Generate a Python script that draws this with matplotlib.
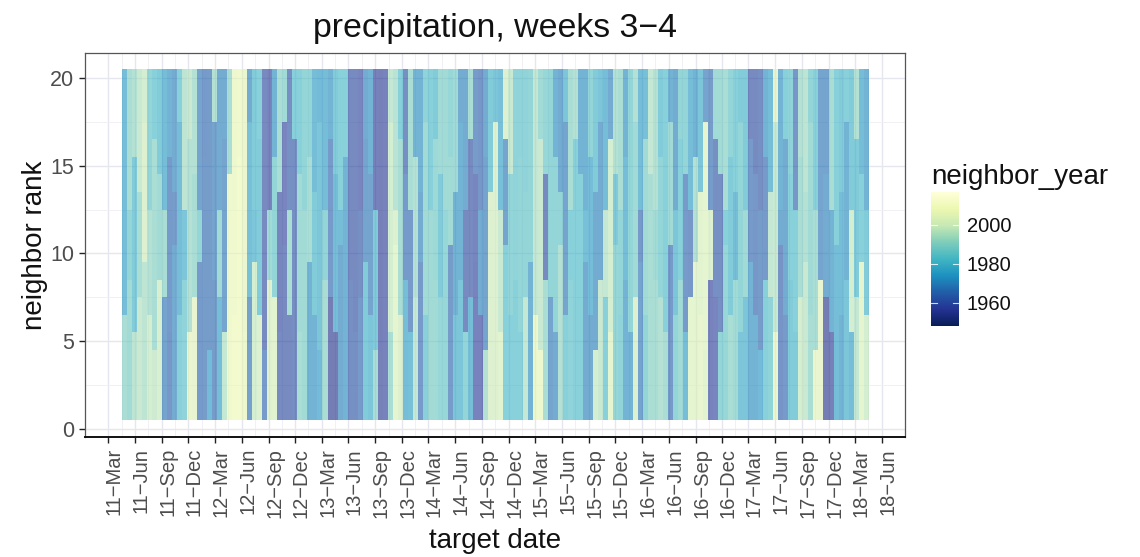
import numpy as np
import pandas as pd
import matplotlib
matplotlib.use('Agg')
import matplotlib.pyplot as plt
import matplotlib.dates as mdates
from matplotlib.transforms import ScaledTranslation

plt.rcParams['font.family'] = ['Liberation Sans', 'DejaVu Sans']

# neighbor year, one value per ~17 day target date
years_low = [
    1990, 1988, 1994, 1996, 1994, 1998, 1997, 1999, 1968, 1964, 1970, 1982, 1984, 2005, 2004, 1965, 1966, 1974, 1966, 1975,
    1995, 2007, 2008, 2008, 2006, 1967, 1998, 2000, 1965, 2001, 2002, 1960, 1960, 1960, 1961, 1990, 1988, 1972, 1972, 1974,
    1990, 1955, 1955, 1970, 1972, 1962, 1962, 1965, 1980, 1978,
    1990, 1956, 1957, 1990, 2003, 2000, 1975, 1976, 1995, 1965, 1982, 1988, 1988, 1986, 1986, 1966, 1978, 1978, 1985, 1975,
    1957, 1957, 1992, 2000, 2000, 2002, 1982, 1982, 1982, 1982, 1995, 1972, 2006, 2006, 1990, 1968, 1970, 1992, 1982, 1984,
    1982, 1982, 1970, 1970, 1998, 1996, 1982, 2003, 1986, 1984,
    1972, 1972, 2000, 1968, 1985, 1990, 1990, 1992, 1990, 1965, 1985, 1988, 1975, 2003, 2003, 2004, 2002, 1957, 1958, 1985,
    1986, 1990, 1988, 1978, 1978, 1972, 1972, 1974, 1982, 1984, 2005, 1963, 1965, 1980, 1980, 1998, 1996, 1990, 2005, 2004,
    1955, 1956, 1975, 1972, 1978, 1975, 1995, 2003, 1998,
]
years_mid = [
    1975, 1985, 1980, 1990, 2000, 1992, 1990, 1988, 1990, 1965, 1966, 1975, 1978, 1992, 1990, 1985, 1966, 1966, 1968, 1988,
    1968, 2007, 2007, 2008, 2005, 1976, 1978, 1980, 1960, 1988, 1985, 1958, 1958, 1990, 1962, 1988, 1988, 1990, 1980, 1978,
    1985, 1965, 1975, 1975, 1972, 1960, 1960, 1962, 1968, 1968,
    1980, 1956, 1957, 1998, 2000, 1990, 1965, 1965, 1992, 1970, 1988, 1988, 1987, 1980, 1986, 1988, 1972, 1972, 1960, 1960,
    1958, 1970, 1968, 2000, 2000, 1996, 1968, 1985, 1984, 1985, 1985, 1985, 1995, 1996, 1960, 1985, 1985, 1985, 1968, 1982,
    1982, 1982, 1976, 1975, 1970, 1970, 1995, 1998, 1980, 1985,
    1975, 1985, 1988, 1965, 1988, 1990, 1988, 1985, 1982, 1988, 1978, 1982, 1965, 1964, 1992, 2002, 2003, 2000, 1962, 1962,
    1982, 1980, 1975, 1985, 1988, 1965, 1964, 1966, 1965, 1995, 1996, 1970, 1970, 1982, 1982, 1990, 1992, 1988, 1990, 1968,
    1970, 1972, 1982, 1975, 1972, 1998, 1980, 1982, 1980,
]
years_top = [
    1975, 1990, 1992, 1996, 1998, 1985, 1982, 1980, 1975, 1972, 1970, 1982, 1994, 1996, 1992, 1968, 1965, 1966, 1992, 1970,
    1970, 1990, 2006, 2007, 2005, 1970, 1980, 1982, 1960, 1958, 1972, 1990, 1988, 1962, 1982, 1982, 1985, 1985, 1975, 1974,
    1975, 1972, 1980, 1982, 1982, 1960, 1960, 1958, 1970, 1972,
    1957, 1956, 1957, 1995, 1993, 1982, 1962, 1990, 1972, 1972, 1984, 1982, 1980, 1988, 1988, 1986, 1988, 1970, 1970, 1990,
    1966, 1964, 1970, 1980, 1978, 1976, 2000, 1996, 1984, 1984, 1984, 1985, 1995, 1988, 1986, 1985, 1972, 1970, 1978, 1990,
    1992, 1972, 1972, 1985, 1980, 1978, 1975, 1970, 1992, 1990,
    1972, 1985, 1992, 1975, 1976, 1995, 1992, 1980, 1982, 1972, 1970, 1985, 1985, 1975, 1972, 1978, 1968, 1966, 1988, 1988,
    1990, 1985, 1982, 1980, 1980, 1960, 1960, 1962, 1972, 1975, 2004, 1972, 1982, 1984, 1964, 1992, 1994, 1985, 1982, 1968,
    1968, 1990, 1982, 1980, 1982, 1980, 1992, 1975, 1972,
]
# the rank where a date's neighbors change differs from date to date
low_split = [6, 8, 5, 7, 9, 6, 4, 8, 7, 5, 10]
top_split = [14, 12, 15, 13, 17, 12, 16]

tick_dates = pd.date_range('2011-03-01', '2018-06-01', freq='3MS')
tick_labels = [d.strftime('%y\u2212%b') for d in tick_dates]
year_ticks = [1960, 1980, 2000]

n_dates = len(years_low)
grid = np.zeros((20, n_dates))
for i in range(n_dates):
    a = low_split[i % len(low_split)]
    b = top_split[i % len(top_split)]
    grid[:a, i] = years_low[i]
    grid[a:b, i] = years_mid[i]
    grid[b:, i] = years_top[i]

start = mdates.date2num(pd.Timestamp('2011-04-18'))
date_edges = start + 17.15 * np.arange(n_dates + 1)
rank_edges = np.arange(21) + 0.5

fig = plt.figure(figsize=(11.4, 5.57), dpi=100)
W, H = 1140.0, 557.0
ax = fig.add_axes([85 / W, 1 - 437 / H, 820 / W, 384 / H])

ax.pcolormesh(date_edges, rank_edges, grid, cmap='YlGnBu_r', vmin=1948, vmax=2017,
              alpha=0.62, linewidth=0, antialiased=False, zorder=2)

tick_nums = mdates.date2num(tick_dates)
ax.set_xlim(tick_nums[0] - 79, tick_nums[-1] + 79)
ax.set_ylim(-0.46, 21.42)

ax.set_xticks(tick_nums)
ax.set_xticklabels(tick_labels, rotation=90, fontsize=14.5, color='#4d4d4d')
ax.set_xticks((tick_nums[:-1] + tick_nums[1:]) / 2, minor=True)
ax.set_yticks([0, 5, 10, 15, 20])
ax.set_yticklabels(['0', '5', '10', '15', '20'], fontsize=15.5, color='#4d4d4d')
ax.set_yticks([2.5, 7.5, 12.5, 17.5], minor=True)

ax.grid(which='major', color='#e6e6ef', linewidth=1.0, zorder=1)
ax.grid(which='minor', color='#efeff4', linewidth=0.6, zorder=1)
ax.set_axisbelow(True)
ax.tick_params(axis='both', which='major', length=4, width=1, color='#222222', pad=4)
ax.tick_params(axis='both', which='minor', length=0)

# ggplot leaves rotated labels a little right of their ticks
shift = ScaledTranslation(6 / 100, 0, fig.dpi_scale_trans)
for lab in ax.get_xticklabels():
    lab.set_transform(lab.get_transform() + shift)

for side in ['top', 'right', 'left']:
    ax.spines[side].set_color('#555555')
    ax.spines[side].set_linewidth(0.9)
ax.spines['bottom'].set_color('#111111')
ax.spines['bottom'].set_linewidth(1.4)

fig.text(495 / W, 1 - 29 / H, 'precipitation, weeks 3\u22124', fontsize=24.4, ha='center', va='center', color='#111111')
fig.text(495 / W, 1 - 541 / H, 'target date', fontsize=20, ha='center', va='center', color='#111111')
fig.text(35 / W, 1 - 245 / H, 'neighbor rank', fontsize=20, rotation=90, ha='center', va='center', color='#111111')

# legend
fig.text(931 / W, 1 - 177 / H, 'neighbor_year', fontsize=20, ha='left', va='center', color='#111111')
cax = fig.add_axes([931 / W, 1 - 326 / H, 28 / W, 134 / H])
gradient = np.linspace(2017, 1948, 256).reshape(-1, 1)
cax.imshow(gradient, cmap='YlGnBu_r', vmin=1948, vmax=2017, aspect='auto', extent=[0, 1, 1948, 2017])
cax.set_xticks([])
cax.set_yticks([])
for s in cax.spines.values():
    s.set_visible(False)
for y in year_ticks:
    cax.plot([0, 0.2], [y, y], color='white', lw=0.8, alpha=0.8)
    cax.plot([0.8, 1], [y, y], color='white', lw=0.8, alpha=0.8)
    cax.text(1.28, y - 0.8, str(y), fontsize=14.5, ha='left', va='center', color='#111111', clip_on=False)
cax.set_xlim(0, 1)
cax.set_ylim(1948, 2017)

fig.savefig('out.png', dpi=100)
